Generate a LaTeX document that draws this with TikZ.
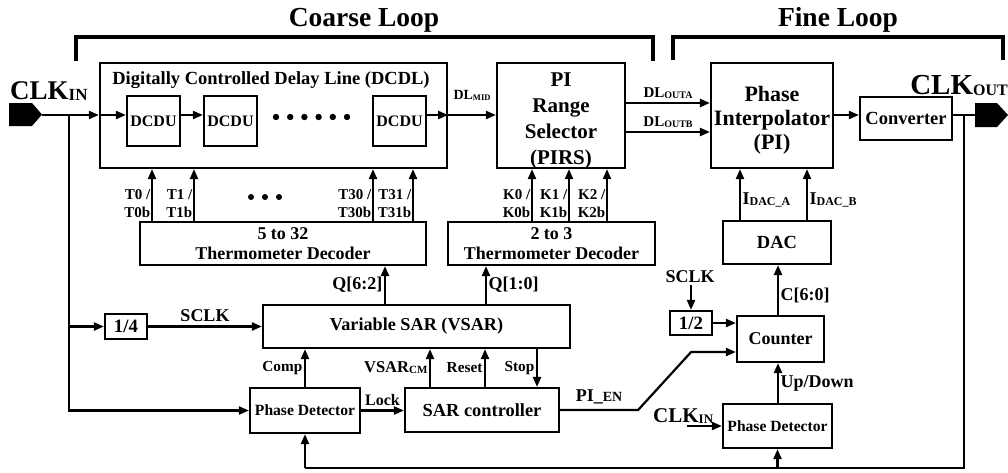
\documentclass[tikz,border=0pt]{standalone}
\usepackage{fontspec}
\setmainfont{Liberation Serif}
\usetikzlibrary{arrows.meta}
\usetikzlibrary{positioning}
\newcommand{\fsz}[1]{\fontsize{#1}{#1}\selectfont\bfseries}
\newcommand{\fszb}[2]{\fontsize{#1}{#2}\selectfont\bfseries}
\newcommand{\subtxt}[2]{\raisebox{-1pt}{\fsz{#1}#2}}

\begin{document}
\begin{tikzpicture}[x=1pt,y=-1pt,
  blk/.style={draw, line width=2.2pt, inner sep=0pt, align=center},
  arr/.style={-{Triangle[length=10pt,width=8pt]}, line width=2.2pt},
  wire/.style={line width=2.2pt},
  brk/.style={line width=3.5pt},
  lbl/.style={inner sep=1.5pt, font=\fsz{18}},
  tlbl/.style={inner sep=1.5pt, align=right, font=\fszb{15}{18}}]
\useasboundingbox (0,0) rectangle (1008,472);

% loop brackets
\draw[brk] (76,61) |- (653,37) -- (653,61);
\node[anchor=base, font=\fsz{27.5}] (coarse) at (364,26) {Coarse Loop};
\draw[brk] (673,60) |- (1003,37) -- (1003,60);
\node[anchor=base, font=\fsz{27.5}] (fine) at (838,26) {Fine Loop};

% ports
\fill (9,103) -- (32,103) -- (42,114.5) -- (32,126) -- (9,126) -- cycle;
\coordinate (inport) at (42,115);
\node[anchor=base west, inner sep=0pt] (clkin) at (10,99) {\fsz{27}CLK\subtxt{17}{IN}};
\fill (975,103) -- (997,103) -- (1008,115) -- (997,127) -- (975,127) -- cycle;
\coordinate (outport) at (975,115);
\node[anchor=base east, inner sep=0pt] (clkout) at (1008,94) {\fsz{29}CLK\subtxt{16}{OUT}};

% blocks
\node[blk, minimum width=347pt, minimum height=105pt] (dcdl) at (273.5,115.5) {};
\node[font=\fsz{18.5}] (dcdlt) at (271,80) {Digitally Controlled Delay Line (DCDL)};
\node[blk, minimum width=53pt, minimum height=50pt, font=\fsz{16}] (dcdu1) at (153.5,121) {DCDU};
\node[blk, minimum width=53pt, minimum height=50pt, font=\fsz{16}] (dcdu2) at (230.5,121) {DCDU};
\node[blk, minimum width=53pt, minimum height=50pt, font=\fsz{16}] (dcdu3) at (399.5,121) {DCDU};
\node[blk, minimum width=128pt, minimum height=105pt] (pirs) at (561,115.5) {};
\node[align=center, font=\fszb{21}{26}] (pirst) at (561,121) {PI\\Range\\Selector\\(PIRS)};
\node[blk, minimum width=122pt, minimum height=105pt] (pi) at (772,115.5) {};
\node[align=center, font=\fszb{22}{24}] (pit) at (772,120) {Phase\\Interpolator\\(PI)};
\node[blk, minimum width=92pt, minimum height=43pt, font=\fsz{18.5}] (conv) at (906,118.5) {Converter};
\node[blk, minimum width=286pt, minimum height=43pt, font=\fszb{18}{19.5}] (dec1) at (283,243.5) {5 to 32\\Thermometer Decoder};
\node[blk, minimum width=207pt, minimum height=43pt, font=\fszb{18}{19.5}] (dec2) at (551.5,243.5) {2 to 3\\Thermometer Decoder};
\node[blk, minimum width=108pt, minimum height=43pt, font=\fsz{18.5}] (dac) at (777,242.5) {DAC};
\node[blk, minimum width=42pt, minimum height=25pt, font=\fsz{18.8}] (div4) at (126,326.5) {1/4};
\node[blk, minimum width=307pt, minimum height=43pt, font=\fsz{18.2}] (vsar) at (416.5,326.5) {Variable SAR (VSAR)};
\node[blk, minimum width=110pt, minimum height=45pt, font=\fsz{15.6}] (pd1) at (305,410.5) {Phase Detector};
\node[blk, minimum width=154pt, minimum height=44pt, font=\fsz{18.4}] (sarc) at (482,410) {SAR controller};
\node[blk, minimum width=42pt, minimum height=24pt, font=\fsz{18.8}] (div2) at (691,323) {1/2};
\node[blk, minimum width=87pt, minimum height=46pt, font=\fsz{18}] (cnt) at (780.5,339) {Counter};
\node[blk, minimum width=109pt, minimum height=44pt, font=\fsz{15.6}] (pd2) at (777.5,426) {Phase Detector};

% delay line
\foreach \i in {0,...,5}
  \fill (276+14.2*\i,117) circle (3.2pt);
\draw[arr] (inport) -- (dcdl.west |- inport);
\draw[arr] (dcdl.west |- inport) -- (dcdu1.west |- inport);
\draw[arr] (dcdu1.east |- inport) -- (dcdu2.west |- inport);
\draw[arr] (dcdu3.east |- inport) -- (dcdl.east |- inport);
\draw[arr] (dcdl.east |- inport) -- (pirs.west |- inport)
  node[midway, above=13pt, inner sep=0pt, font=\fsz{14}] (dlmid) {DL\subtxt{8.5}{MID}};
\draw[arr] ([yshift=12.5pt]pirs.east) -- ([yshift=12.5pt]pirs.east -| pi.west)
  node[midway, above=3pt, inner sep=0pt, font=\fsz{15}] (dla) {DL\subtxt{10}{OUTA}};
\draw[arr] ([yshift=-16.5pt]pirs.east) -- ([yshift=-16.5pt]pirs.east -| pi.west)
  node[midway, above=3pt, inner sep=0pt, font=\fsz{15}] (dlb) {DL\subtxt{10}{OUTB}};
\draw[arr] (pi.east |- inport) -- (conv.west |- inport);
\draw[wire] (conv.east |- outport) -- (outport);

% thermometer codes
\foreach \x/\t in {152/0, 194/1, 373/30, 413/31} {
  \draw[arr] (dec1.north -| \x,0) -- (dcdl.south -| \x,0);
  \node[tlbl, anchor=east] (t\t) at (\x,204) {T\t\ /\\T\t b};
}
\foreach \i in {0,1,2}
  \fill (251+14*\i,197) circle (3pt);
\foreach \x/\k in {532/0, 569/1, 607/2} {
  \draw[arr] (dec2.north -| \x,0) -- (pirs.south -| \x,0);
  \node[tlbl, anchor=east] (k\k) at (\x,204) {K\k\ /\\K\k b};
}

% SAR loop
\coordinate (tapL) at (69,115);
\draw[arr] (tapL |- div4) -- (div4.west);
\draw[arr] (tapL) |- (pd1.west);
\draw[arr] (div4.east) -- (div4.east -| vsar.west) node[lbl, midway, above=2pt] (sclk) {SCLK};
\draw[arr] (vsar.north -| 385,0) -- (dec1.south -| 385,0) node[lbl, midway, left] (q62) {Q[6:2]};
\draw[arr] (vsar.north -| 486,0) -- (dec2.south -| 486,0) node[lbl, midway, right] (q10) {Q[1:0]};
\draw[arr] (pd1.north) -- (vsar.south -| pd1.north) node[lbl, midway, left, font=\fsz{15.3}] (comp) {Comp};
\draw[arr] (pd1.east) -- (pd1.east -| sarc.west) node[lbl, midway, above=2pt, font=\fsz{16}] (lock) {Lock};
\draw[arr] (sarc.north -| 430,0) -- (vsar.south -| 430,0)
  node[lbl, midway, left, font=\fsz{16.5}] (vcm) {VSAR\subtxt{11}{CM}};
\draw[arr] (sarc.north -| 485,0) -- (vsar.south -| 485,0) node[lbl, midway, left, font=\fsz{15.3}] (reset) {Reset};
\draw[arr] (vsar.south -| 537,0) -- (sarc.north -| 537,0) node[lbl, midway, left, font=\fsz{15.3}] (stop) {Stop};
\draw[arr] (sarc.east) -- ++(78,0) node[lbl, midway, above=3pt] (pien) {PI\_{\fsz{14}EN}}
  -- ++(53,-58) -- ([yshift=-13pt]cnt.west);

% fine loop
\node[lbl] (sclkb) at (690,277) {SCLK};
\draw[arr] (sclkb.south -| div2.north) -- (div2.north);
\draw[arr] (div2.east) -- (div2.east -| cnt.west);
\draw[arr] (cnt.north -| 778,0) -- (dac.south -| 778,0) node[lbl, pos=0.4, right] (c60) {C[6:0]};
\foreach \x/\s in {740/A, 807/B}
  \draw[arr] (dac.north -| \x,0) -- (pi.south -| \x,0)
    node[lbl, pos=0.4, right] (idac\s) {I\subtxt{12}{DAC\_\s}};
\draw[arr] (pd2.north -| 778,0) -- (cnt.south -| 778,0) node[lbl, midway, right] (updn) {Up/Down};
\node[anchor=base west, inner sep=0pt] (clkinb) at (653,422) {\fsz{21}CLK\subtxt{13}{IN}};
\coordinate (clkbsrc) at (687,426);
\draw[arr] (clkbsrc) -- (pd2.west);

% feedback from output
\coordinate (tapR) at (964,115);
\coordinate (fb) at (964,468);
\draw[wire] (tapR) -- (fb) -- (fb -| pd1);
\draw[arr] (fb -| pd1) -- (pd1.south);
\draw[arr] (fb -| pd2) -- (pd2.south);
\end{tikzpicture}
\end{document}
